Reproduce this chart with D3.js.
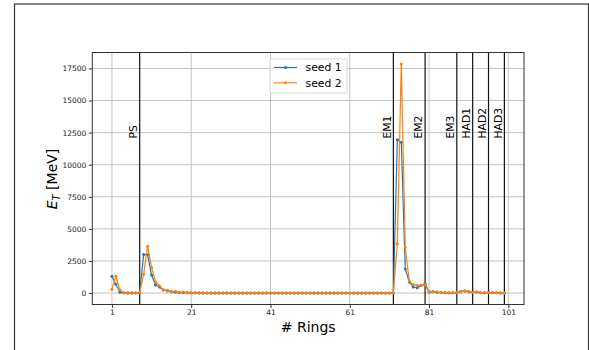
<!DOCTYPE html>
<html>
<head>
<meta charset="utf-8">
<script src="https://cdn.jsdelivr.net/npm/d3@7"></script>
<style>
  body { margin: 0; background: #fff; }
  svg { display: block; font-family: "DejaVu Sans", sans-serif; }
</style>
</head>
<body>
<svg id="chart" width="589" height="350"></svg>
<script>
// energy per ring, two seeds
const seed1 = [
  1300, 680, 60, 20, 10, 10, 10, 10, 3000, 3000,
  1400, 630, 470, 230, 180, 100, 70, 50, 40, 30,
  20, 15, 10, 10, 5, 5, 5, 5, 5, 5,
  5, 5, 5, 5, 5, 5, 5, 5, 5, 5,
  5, 5, 5, 5, 5, 5, 5, 5, 5, 5,
  5, 5, 5, 5, 5, 5, 5, 5, 5, 5,
  5, 5, 5, 5, 5, 5, 5, 5, 5, 5,
  5, 0, 11950, 11750, 1880, 860, 470, 420, 580, 730,
  80, 110, 60, 40, 30, 20, 20, 30, 120, 150,
  100, 60, 80, 30, 20, 50, 20, 20, 10, 10
];
const seed2 = [
  300, 1300, 250, 30, 20, 20, 20, 10, 1450, 3650,
  2000, 860, 560, 250, 220, 120, 140, 60, 80, 40,
  30, 20, 15, 10, 10, 5, 5, 5, 5, 5,
  5, 5, 5, 5, 5, 5, 5, 5, 5, 5,
  5, 5, 5, 5, 5, 5, 5, 5, 5, 5,
  5, 5, 5, 5, 5, 5, 5, 5, 5, 5,
  5, 5, 5, 5, 5, 5, 5, 5, 5, 5,
  5, 0, 3850, 17850, 3550, 940, 650, 600, 600, 650,
  80, 120, 80, 50, 40, 30, 30, 40, 80, 180,
  120, 50, 90, 40, 30, 30, 20, 20, 20, 10
];
const rings = d3.range(1, 101);
const layers = ["PS", "EM1", "EM2", "EM3", "HAD1", "HAD2", "HAD3"];
const layerEnds = [8, 72, 80, 88, 92, 96, 100];
const xTicks = [1, 21, 41, 61, 81, 101];
const yTicks = [0, 2500, 5000, 7500, 10000, 12500, 15000, 17500];
const seriesNames = ["seed 1", "seed 2"];
const colors = ["#1f77b4", "#ff7f0e"];

const svg = d3.select("#chart");
const pLeft = 92.3, pRight = 524, pTop = 52.5, pBottom = 304.5;

// figure frame
svg.append("rect").attr("x", 14.5).attr("y", 4).attr("width", 574).attr("height", 360)
  .attr("fill", "none").attr("stroke", "#333").attr("stroke-width", 1.2);

const xMin = 1, xMax = 100, xPad = (xMax - xMin) * 0.05;
const x = d3.scaleLinear().domain([xMin - xPad, xMax + xPad]).range([pLeft, pRight]);
const yMax = d3.max(seed1.concat(seed2)), yPad = yMax * 0.05;
const y = d3.scaleLinear().domain([-yPad, yMax + yPad]).range([pBottom, pTop]);

// grid
const g = svg.append("g");
g.selectAll(".gx").data(xTicks).enter().append("line")
  .attr("x1", d => x(d)).attr("x2", d => x(d)).attr("y1", pTop).attr("y2", pBottom)
  .attr("stroke", "#c4c4c4").attr("stroke-width", 1);
g.selectAll(".gy").data(yTicks).enter().append("line")
  .attr("x1", pLeft).attr("x2", pRight).attr("y1", d => y(d)).attr("y2", d => y(d))
  .attr("stroke", "#c4c4c4").attr("stroke-width", 1);

// axes
const xAxis = svg.append("g").attr("transform", `translate(0,${pBottom})`)
  .call(d3.axisBottom(x).tickValues(xTicks).tickSize(3.5).tickPadding(2));
const yAxis = svg.append("g").attr("transform", `translate(${pLeft},0)`)
  .call(d3.axisLeft(y).tickValues(yTicks).tickSize(3.5).tickPadding(2.5).tickFormat(d3.format("d")));
[xAxis, yAxis].forEach(a => {
  a.select(".domain").remove();
  a.selectAll("text").attr("font-size", 7.5).attr("fill", "#222").attr("font-family", "DejaVu Sans");
  a.selectAll("line").attr("stroke", "#333");
});

// layer boundaries
layerEnds.forEach((d, i) => {
  svg.append("line").attr("x1", x(d)).attr("x2", x(d)).attr("y1", pTop).attr("y2", pBottom)
    .attr("stroke", "#111").attr("stroke-width", 1.2);
  svg.append("text")
    .attr("transform", `translate(${x(d) - 2.8},${y(12000) - 0.5}) rotate(-90)`)
    .attr("font-size", 10.8).attr("fill", "#000").text(layers[i]);
});

// series
const line = d3.line().x((d, i) => x(rings[i])).y(d => y(d));
[seed1, seed2].forEach((s, k) => {
  svg.append("path").datum(s).attr("d", line)
    .attr("fill", "none").attr("stroke", colors[k]).attr("stroke-width", 1.2);
  svg.append("g").selectAll("circle").data(s).enter().append("circle")
    .attr("cx", (d, i) => x(rings[i])).attr("cy", d => y(d)).attr("r", 1.5)
    .attr("fill", colors[k]);
});

// plot frame
svg.append("rect").attr("x", pLeft).attr("y", pTop).attr("width", pRight - pLeft).attr("height", pBottom - pTop)
  .attr("fill", "none").attr("stroke", "#333").attr("stroke-width", 1);

// legend
const lg = svg.append("g");
lg.append("rect").attr("x", 270).attr("y", 59).attr("width", 77).attr("height", 34).attr("rx", 2)
  .attr("fill", "#fff").attr("fill-opacity", 0.8).attr("stroke", "#d6d6d6");
seriesNames.forEach((n, k) => {
  const ly = 67.5 + k * 15.3;
  lg.append("line").attr("x1", 274).attr("x2", 297).attr("y1", ly).attr("y2", ly)
    .attr("stroke", colors[k]).attr("stroke-width", 1.2);
  lg.append("circle").attr("cx", 285.5).attr("cy", ly).attr("r", 1.5).attr("fill", colors[k]);
  lg.append("text").attr("x", 305.5).attr("y", ly + 3.8).attr("font-size", 10.8).text(n);
});

// axis labels
svg.append("text").attr("x", (pLeft + pRight) / 2).attr("y", 332).attr("text-anchor", "middle")
  .attr("font-size", 14).text("# Rings");
const yl = svg.append("text").attr("transform", `translate(57,179) rotate(-90)`)
  .attr("text-anchor", "middle").attr("font-size", 14);
yl.append("tspan").attr("font-style", "italic").text("E");
yl.append("tspan").attr("font-style", "italic").attr("font-size", 10).attr("dy", 3).text("T");
yl.append("tspan").attr("dy", -3).text(" [MeV]");
</script>
</body>
</html>
